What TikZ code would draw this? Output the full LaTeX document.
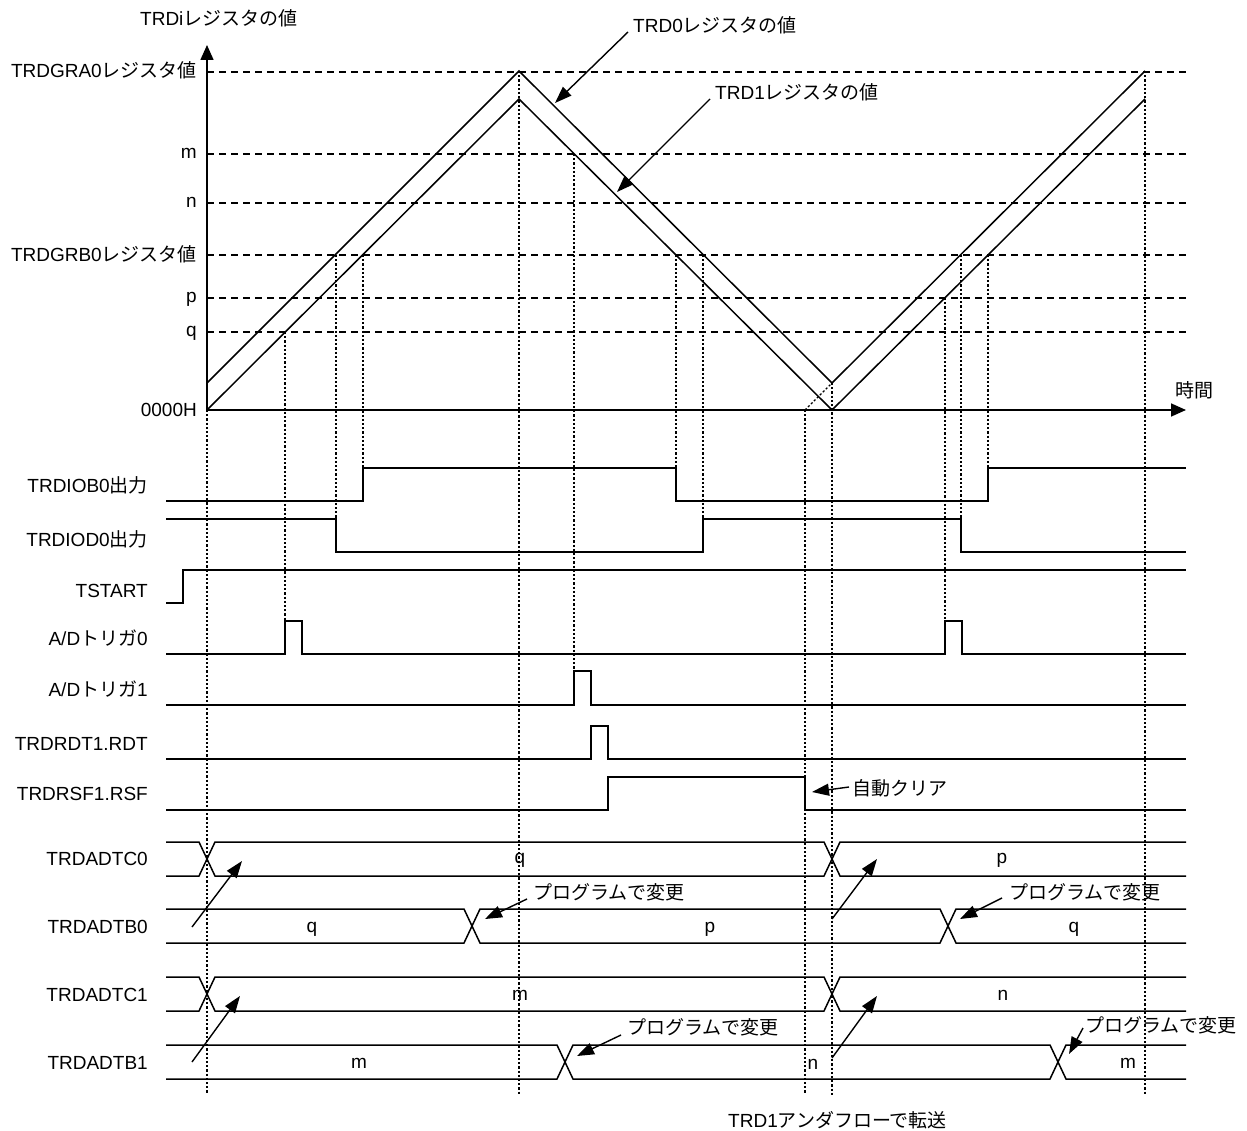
\documentclass[tikz,border=0pt]{standalone}
\usepackage{fontspec}
\setmainfont{Liberation Sans}
\newfontfamily\jp{Noto Sans CJK JP}
\usetikzlibrary{arrows.meta}
\newcommand\myfs{\fontsize{19}{23}\selectfont}
\begin{document}
\begin{tikzpicture}[x=1pt,y=-1pt,
  sig/.style={line width=1.5pt,line join=miter},
  hline/.style={line width=1.4pt,dash pattern=on 7pt off 5pt},
  vdot/.style={line width=1.2pt,dash pattern=on 2.2pt off 2pt},
  axisline/.style={line width=1.6pt,-{Triangle[length=15pt,width=13pt]}},
  ann/.style={line width=1.4pt,-{Triangle[length=17pt,width=12pt]}},
  lbl/.style={anchor=base east,inner sep=0pt,font=\myfs},
  val/.style={anchor=base,inner sep=0pt,font=\myfs},
  note/.style={anchor=west,inner sep=0pt,font=\myfs},
  noteb/.style={anchor=base west,inner sep=0pt,font=\myfs}]
\useasboundingbox (0,0) rectangle (1247,1131);

% ---------- horizontal dashed levels ----------
\draw[hline] (207,72) -- (1187,72);
\draw[hline] (207,154) -- (1187,154);
\draw[hline] (207,203) -- (1187,203);
\draw[hline] (207,255) -- (1187,255);
\draw[hline] (207,298) -- (1187,298);
\draw[hline] (207,332) -- (1187,332);

% ---------- vertical dotted guides ----------
\draw[vdot] (207,410) -- (207,1094);
\draw[vdot] (285,332) -- (285,621);
\draw[vdot] (336,255) -- (336,519);
\draw[vdot] (363,255) -- (363,468);
\draw[vdot] (519,71) -- (519,1094);
\draw[vdot] (574,154) -- (574,671);
\draw[vdot] (676,255) -- (676,468);
\draw[vdot] (703,255) -- (703,519);
\draw[vdot] (805,410) -- (805,1094);
\draw[vdot] (832,383) -- (832,1096);
\draw[vdot] (945,298) -- (945,621);
\draw[vdot] (961,255) -- (961,519);
\draw[vdot] (988,255) -- (988,468);
\draw[vdot] (1145,71) -- (1145,1094);
\draw[vdot] (805,410) -- (832,383);

% ---------- axes ----------
\draw[axisline] (207,410) -- (207,45);
\draw[axisline] (207,410) -- (1186,410);

% ---------- counters ----------
\draw[sig] (207,383) -- (519,71) -- (832,383) -- (1145,71);
\draw[sig] (207,410) -- (519,99) -- (832,410) -- (1145,99);

% ---------- axis labels ----------
\node[noteb] (yttl) at (140,26) {TRDi{\jp レジスタの値}};
\node[note] (xttl) at (1175,390) {{\jp 時間}};
\node[lbl] (lga) at (197,78) {TRDGRA0{\jp レジスタ値}};
\node[lbl] (lm) at (197,159) {m};
\node[lbl] (ln) at (197,208) {n};
\node[lbl] (lgb) at (197,262) {TRDGRB0{\jp レジスタ値}};
\node[lbl] (lp) at (197,303) {p};
\node[lbl] (lq) at (197,337) {q};
\node[lbl] (l0) at (197,416) {0000H};

% ---------- counter annotations ----------
\node[noteb] (t0) at (633,33) {TRD0{\jp レジスタの値}};
\node[noteb] (t1) at (715,100) {TRD1{\jp レジスタの値}};
\coordinate (t0s) at (628,32);
\coordinate (t0e) at (555,103);
\coordinate (t1s) at (710,99);
\coordinate (t1e) at (617,192);
\draw[ann] (t0s) -- (t0e);
\draw[ann] (t1s) -- (t1e);

% ---------- signal labels ----------
\node[lbl] (sIOB) at (148,492) {TRDIOB0{\jp 出力}};
\node[lbl] (sIOD) at (148,546) {TRDIOD0{\jp 出力}};
\node[lbl] (sTS) at (148,597) {TSTART};
\node[lbl] (sAD0) at (148,645) {A/D{\jp トリガ}0};
\node[lbl] (sAD1) at (148,696) {A/D{\jp トリガ}1};
\node[lbl] (sRDT) at (148,750) {TRDRDT1.RDT};
\node[lbl] (sRSF) at (148,800) {TRDRSF1.RSF};
\node[lbl] (sC0) at (148,865) {TRDADTC0};
\node[lbl] (sB0) at (148,933) {TRDADTB0};
\node[lbl] (sC1) at (148,1001) {TRDADTC1};
\node[lbl] (sB1) at (148,1069) {TRDADTB1};

% ---------- digital waveforms ----------
\draw[sig] (166,501) -- (363,501) -- (363,468) -- (676,468) -- (676,501) -- (988,501) -- (988,468) -- (1186,468);
\draw[sig] (166,519) -- (336,519) -- (336,552) -- (703,552) -- (703,519) -- (961,519) -- (961,552) -- (1186,552);
\draw[sig] (166,603) -- (183,603) -- (183,570) -- (1186,570);
\draw[sig] (166,654) -- (285,654) -- (285,621) -- (302,621) -- (302,654) -- (945,654) -- (945,621) -- (962,621) -- (962,654) -- (1186,654);
\draw[sig] (166,705) -- (574,705) -- (574,671) -- (591,671) -- (591,705) -- (1186,705);
\draw[sig] (166,759) -- (591,759) -- (591,726) -- (608,726) -- (608,759) -- (1186,759);
\draw[sig] (166,810) -- (608,810) -- (608,777) -- (805,777) -- (805,810) -- (1186,810);

\node[note] (clr) at (852,788) {{\jp 自動クリア}};
\coordinate (clrs) at (849,787);
\coordinate (clre) at (812,792);
\draw[ann] (clrs) -- (clre);

% ---------- buses ----------
% TRDADTC0
\draw[sig] (166,842) -- (199,842) -- (215,876) -- (824,876) -- (840,842) -- (1186,842);
\draw[sig] (166,876) -- (199,876) -- (215,842) -- (824,842) -- (840,876) -- (1186,876);
% TRDADTB0
\draw[sig] (166,909) -- (464,909) -- (480,943) -- (940,943) -- (956,909) -- (1186,909);
\draw[sig] (166,943) -- (464,943) -- (480,909) -- (940,909) -- (956,943) -- (1186,943);
% TRDADTC1
\draw[sig] (166,977) -- (199,977) -- (215,1011) -- (824,1011) -- (840,977) -- (1186,977);
\draw[sig] (166,1011) -- (199,1011) -- (215,977) -- (824,977) -- (840,1011) -- (1186,1011);
% TRDADTB1
\draw[sig] (166,1045) -- (557,1045) -- (573,1079) -- (1050,1079) -- (1066,1045) -- (1186,1045);
\draw[sig] (166,1079) -- (557,1079) -- (573,1045) -- (1050,1045) -- (1066,1079) -- (1186,1079);

% bus values
\node[val] (vC0a) at (520,863) {q};
\node[val] (vC0b) at (1002,863) {p};
\node[val] (vB0a) at (312,932) {q};
\node[val] (vB0b) at (710,932) {p};
\node[val] (vB0c) at (1074,932) {q};
\node[val] (vC1a) at (520,1000) {m};
\node[val] (vC1b) at (1003,1000) {n};
\node[val] (vB1a) at (359,1068) {m};
\node[val] (vB1b) at (813,1069) {n};
\node[val] (vB1c) at (1128,1068) {m};

% transfer arrows
\coordinate (a1s) at (192,927);  \coordinate (a1e) at (242,861);
\coordinate (a2s) at (832,919);  \coordinate (a2e) at (877,859);
\coordinate (a3s) at (192,1062); \coordinate (a3e) at (240,996);
\coordinate (a4s) at (832,1058); \coordinate (a4e) at (877,996);
\draw[ann] (a1s) -- (a1e);
\draw[ann] (a2s) -- (a2e);
\draw[ann] (a3s) -- (a3e);
\draw[ann] (a4s) -- (a4e);

% program change notes
\node[note] (pg1) at (533,892) {{\jp プログラムで変更}};
\node[note] (pg2) at (1009,892) {{\jp プログラムで変更}};
\node[note] (pg3) at (627,1027) {{\jp プログラムで変更}};
\node[note] (pg4) at (1085,1025) {{\jp プログラムで変更}};
\coordinate (p1s) at (527,899);  \coordinate (p1e) at (485,919);
\coordinate (p2s) at (1002,898); \coordinate (p2e) at (960,919);
\coordinate (p3s) at (621,1035); \coordinate (p3e) at (577,1056);
\coordinate (p4s) at (1083,1028); \coordinate (p4e) at (1069,1054);
\draw[ann] (p1s) -- (p1e);
\draw[ann] (p2s) -- (p2e);
\draw[ann] (p3s) -- (p3e);
\draw[ann] (p4s) -- (p4e);

\node[noteb] (uf) at (728,1127) {TRD1{\jp アンダフローで転送}};
\end{tikzpicture}
\end{document}
